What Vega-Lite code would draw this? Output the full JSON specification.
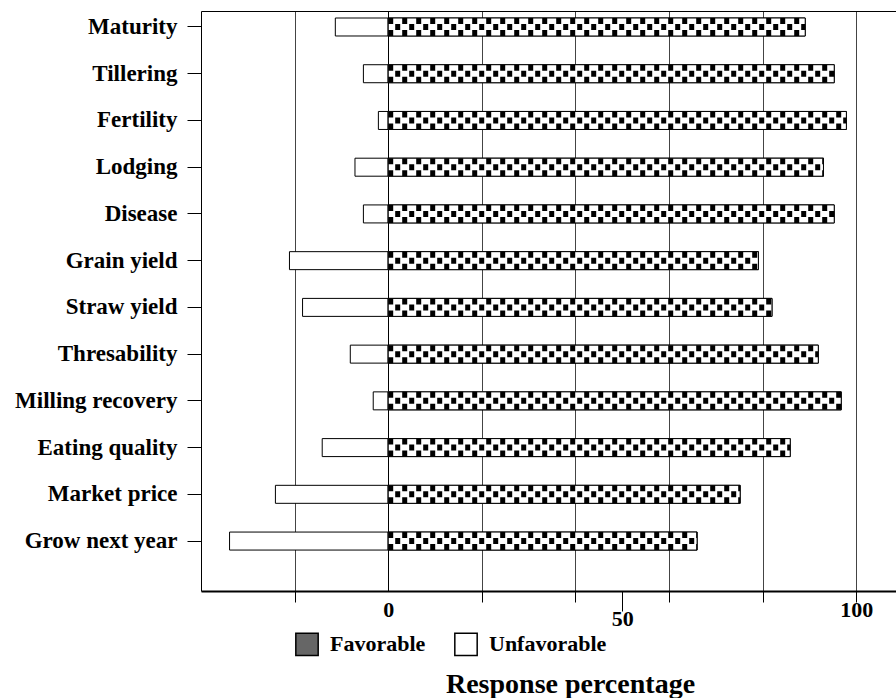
{
  "$schema": "https://vega.github.io/schema/vega-lite/v6.json",
  "width": 695,
  "height": 580,
  "autosize": {"type": "none"},
  "padding": {"left": 201, "top": 11, "right": 0, "bottom": 107},
  "background": "white",
  "config": {"view": {"stroke": null}, "font": "Liberation Serif"},
  "data": {
    "values": [
      {"item": "Maturity", "type": "Unfavorable", "start": -11.3, "end": 0},
      {"item": "Maturity", "type": "Favorable", "start": 0, "end": 89.1},
      {"item": "Tillering", "type": "Unfavorable", "start": -5.3, "end": 0},
      {"item": "Tillering", "type": "Favorable", "start": 0, "end": 95.3},
      {"item": "Fertility", "type": "Unfavorable", "start": -2.1, "end": 0},
      {"item": "Fertility", "type": "Favorable", "start": 0, "end": 97.9},
      {"item": "Lodging", "type": "Unfavorable", "start": -7.1, "end": 0},
      {"item": "Lodging", "type": "Favorable", "start": 0, "end": 93.0},
      {"item": "Disease", "type": "Unfavorable", "start": -5.3, "end": 0},
      {"item": "Disease", "type": "Favorable", "start": 0, "end": 95.3},
      {"item": "Grain yield", "type": "Unfavorable", "start": -21.1, "end": 0},
      {"item": "Grain yield", "type": "Favorable", "start": 0, "end": 79.1},
      {"item": "Straw yield", "type": "Unfavorable", "start": -18.3, "end": 0},
      {"item": "Straw yield", "type": "Favorable", "start": 0, "end": 82.0},
      {"item": "Thresability", "type": "Unfavorable", "start": -8.1, "end": 0},
      {"item": "Thresability", "type": "Favorable", "start": 0, "end": 91.9},
      {"item": "Milling recovery", "type": "Unfavorable", "start": -3.2, "end": 0},
      {"item": "Milling recovery", "type": "Favorable", "start": 0, "end": 96.8},
      {"item": "Eating quality", "type": "Unfavorable", "start": -14.1, "end": 0},
      {"item": "Eating quality", "type": "Favorable", "start": 0, "end": 85.9},
      {"item": "Market price", "type": "Unfavorable", "start": -24.1, "end": 0},
      {"item": "Market price", "type": "Favorable", "start": 0, "end": 75.2},
      {"item": "Grow next year", "type": "Unfavorable", "start": -33.9, "end": 0},
      {"item": "Grow next year", "type": "Favorable", "start": 0, "end": 66.0}
    ]
  },
  "encoding": {
    "y": {
      "field": "item",
      "type": "nominal",
      "sort": ["Maturity", "Tillering", "Fertility", "Lodging", "Disease", "Grain yield", "Straw yield", "Thresability", "Milling recovery", "Eating quality", "Market price", "Grow next year"],
      "scale": {"paddingInner": 0.615, "paddingOuter": 0.513, "align": 0.146},
      "axis": {
        "title": null,
        "grid": false,
        "labelFont": "Liberation Serif",
        "labelFontWeight": "bold",
        "labelFontSize": 23,
        "labelColor": "black",
        "labelLimit": 300,
        "labelPadding": 10,
        "tickSize": 14,
        "tickColor": "black",
        "domainColor": "black",
        "domainWidth": 1
      }
    }
  },
  "resolve": {"axis": {"x": "independent"}},
  "layer": [
    {
      "mark": {"type": "bar", "stroke": "black", "strokeWidth": 1},
      "encoding": {
        "x": {
          "field": "start",
          "type": "quantitative",
          "scale": {"domain": [-40, 108.5], "nice": false, "zero": false},
          "axis": {
            "orient": "bottom",
            "values": [-20, 0, 20, 40, 50, 60, 80, 100],
            "labelExpr": "datum.value === 0 || datum.value === 50 || datum.value === 100 ? datum.label : ''",
            "labelOverlap": false,
            "labelFlush": false,
            "grid": true,
            "gridColor": {"condition": {"test": "datum.value === 0", "value": "black"}, "value": "#444444"},
            "gridOpacity": {"condition": {"test": "datum.value === 50", "value": 0}, "value": 1},
            "tickSize": {"condition": {"test": "datum.value === 50", "value": 20}, "value": 11},
            "tickOpacity": {"condition": {"test": "datum.value === 0", "value": 0}, "value": 1},
            "tickColor": "black",
            "labelFont": "Liberation Serif",
            "labelFontSize": 22,
            "labelFontWeight": "bold",
            "labelColor": "black",
            "labelPadding": -3,
            "domainColor": "black",
            "domainWidth": 2,
            "title": "Response percentage",
            "titleFont": "Liberation Serif",
            "titleFontSize": 28,
            "titleFontWeight": "bold",
            "titleColor": "black",
            "titleX": 369,
            "titleY": 101,
            "titleBaseline": "alphabetic"
          }
        },
        "x2": {"field": "end"},
        "fill": {
          "field": "type",
          "type": "nominal",
          "scale": {"domain": ["Favorable", "Unfavorable"], "range": ["#666666", "white"]},
          "legend": {
            "orient": "none",
            "legendX": 94,
            "legendY": 621,
            "direction": "horizontal",
            "title": null,
            "padding": 0,
            "symbolType": "square",
            "symbolSize": 500,
            "symbolStrokeWidth": 1.5,
            "labelFont": "Liberation Serif",
            "labelFontSize": 22,
            "labelFontWeight": "bold",
            "labelColor": "black",
            "labelOffset": 11,
            "columnPadding": 25,
            "symbolOpacity": 1,
            "encode": {
              "symbols": {
                "stroke": {
                  "condition": {"test": "datum.value === 'Favorable'", "value": "#1c1c44"},
                  "value": "#4a4a22"
                },
                "strokeWidth": {"value": 1.5}
              }
            }
          }
        }
      }
    },
    {
      "transform": [{"filter": "datum.type === 'Favorable'"}],
      "mark": {"type": "bar", "fill": "white", "stroke": "black", "strokeWidth": 1},
      "encoding": {
        "x": {"field": "start", "type": "quantitative", "axis": null},
        "x2": {"field": "end"}
      }
    },
    {
      "transform": [{"filter": "datum.type === 'Favorable'"}],
      "mark": {"type": "rule", "color": "black", "strokeWidth": 6, "strokeDash": [5, 9], "yOffset": -6},
      "encoding": {
        "x": {"field": "start", "type": "quantitative", "axis": {"orient": "top", "ticks": false, "labels": false, "grid": false, "title": null, "domain": true, "domainColor": "black", "domainWidth": 1}},
        "x2": {"field": "end"}
      }
    },
    {
      "transform": [{"filter": "datum.type === 'Favorable'"}],
      "mark": {"type": "rule", "color": "black", "strokeWidth": 6, "strokeDash": [5, 9], "strokeDashOffset": 7, "yOffset": 0},
      "encoding": {
        "x": {"field": "start", "type": "quantitative", "axis": null},
        "x2": {"field": "end"}
      }
    },
    {
      "transform": [{"filter": "datum.type === 'Favorable'"}],
      "mark": {"type": "rule", "color": "black", "strokeWidth": 6, "strokeDash": [5, 9], "yOffset": 6},
      "encoding": {
        "x": {"field": "start", "type": "quantitative", "axis": null},
        "x2": {"field": "end"}
      }
    }
  ]
}
